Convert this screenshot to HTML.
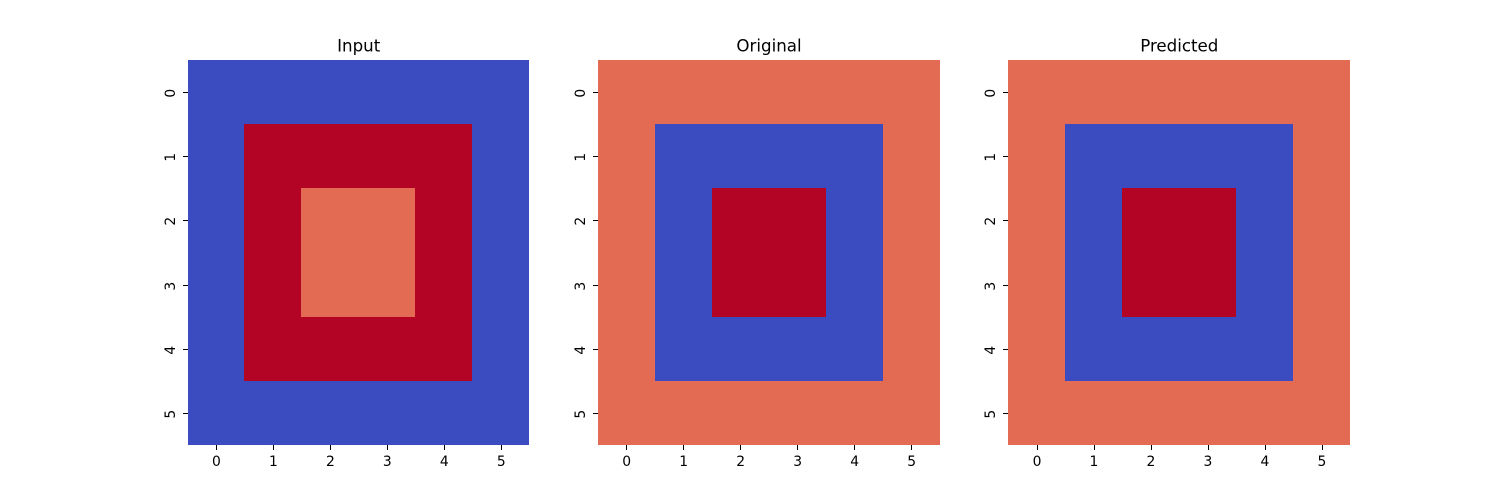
<!DOCTYPE html>
<html>
<head>
<meta charset="utf-8">
<title>Input, Original and Predicted heatmaps</title>
<style>
  html, body { margin: 0; padding: 0; background: #ffffff; }
  body { width: 1500px; height: 500px; overflow: hidden; }
  svg { display: block; }
  text { font-family: "DejaVu Sans", "Liberation Sans", sans-serif; fill: #000000; }
</style>
</head>
<body>
<svg id="figure" xmlns="http://www.w3.org/2000/svg" width="1500" height="500" viewBox="0 0 1500 500"></svg>
<script>
const panelTitles = ["Input", "Original", "Predicted"];
const xTickLabels = ["0", "1", "2", "3", "4", "5"];
const yTickLabels = ["0", "1", "2", "3", "4", "5"];
const inputGrid = [
  [0, 0, 0, 0, 0, 0],
  [0, 7, 7, 7, 7, 0],
  [0, 7, 6, 6, 7, 0],
  [0, 7, 6, 6, 7, 0],
  [0, 7, 7, 7, 7, 0],
  [0, 0, 0, 0, 0, 0]
];
const originalGrid = [
  [6, 6, 6, 6, 6, 6],
  [6, 0, 0, 0, 0, 6],
  [6, 0, 7, 7, 0, 6],
  [6, 0, 7, 7, 0, 6],
  [6, 0, 0, 0, 0, 6],
  [6, 6, 6, 6, 6, 6]
];
const predictedGrid = [
  [6, 6, 6, 6, 6, 6],
  [6, 0, 0, 0, 0, 6],
  [6, 0, 7, 7, 0, 6],
  [6, 0, 7, 7, 0, 6],
  [6, 0, 0, 0, 0, 6],
  [6, 6, 6, 6, 6, 6]
];
const panelGrids = [inputGrid, originalGrid, predictedGrid];
const colorValues = [0, 6, 7];
const colorHexes = ["#3b4cc0", "#e36a53", "#b40426"];

const SVG_NS = "http://www.w3.org/2000/svg";
const figure = document.getElementById("figure");
const FIG_LEFT = 187.5;
const FIG_RIGHT = 1350;
const TOP = 60;
const BOTTOM = 445;
const GAP_RATIO = 0.2;
const panelCount = panelTitles.length;
const panelWidth = (FIG_RIGHT - FIG_LEFT) / (panelCount + (panelCount - 1) * GAP_RATIO);

function panelLeft(p) { return FIG_LEFT + p * panelWidth * (1 + GAP_RATIO); }
function xScale(p, v, n) { return panelLeft(p) + (v / n) * panelWidth; }
function yScale(v, n) { return TOP + (v / n) * (BOTTOM - TOP); }
function snap(v) { return Math.round(v) + 0.5; }
function colorFor(v) { return colorHexes[colorValues.indexOf(v)]; }

function make(tag, attrs, parent) {
  const el = document.createElementNS(SVG_NS, tag);
  for (const k in attrs) el.setAttribute(k, attrs[k]);
  parent.appendChild(el);
  return el;
}

panelGrids.forEach(function (grid, p) {
  const group = make("g", {}, figure);
  
  

  const rows = grid.length;
  const cols = grid[0].length;

  grid.forEach(function (row, r) {
    row.forEach(function (value, c) {
      const x0 = Math.round(xScale(p, c, cols));
      const x1 = Math.round(xScale(p, c + 1, cols));
      const y0 = Math.round(yScale(r, rows));
      const y1 = Math.round(yScale(r + 1, rows));
      const cell = make("rect", {
        x: x0, y: y0, width: x1 - x0, height: y1 - y0,
        fill: colorFor(value), "shape-rendering": "crispEdges"
      }, group);
      
      
    });
  });

  const title = make("text", {
    x: xScale(p, cols / 2, cols) + 0.25, y: 51.7,
    "text-anchor": "middle", "font-size": "16.67px"
  }, group);
  title.textContent = panelTitles[p];
  
  

  xTickLabels.forEach(function (label, i) {
    const rawX = xScale(p, i + 0.5, cols);
    const x = snap(rawX);
    const tick = make("line", {
      x1: x, x2: x, y1: BOTTOM, y2: BOTTOM + 5,
      stroke: "#000000", "stroke-width": 1
    }, group);
    
    
    const text = make("text", {
      x: rawX + 0.4, y: 466, "text-anchor": "middle", "font-size": "13.89px"
    }, group);
    text.textContent = label;
    
    
  });

  yTickLabels.forEach(function (label, i) {
    const y = snap(yScale(i + 0.5, rows));
    const left = Math.round(panelLeft(p));
    const tick = make("line", {
      x1: left - 5, x2: left, y1: y, y2: y,
      stroke: "#000000", "stroke-width": 1
    }, group);
    
    
    const tx = left - 13;
    const ty = y + 0.75;
    const text = make("text", {
      x: tx, y: ty, "text-anchor": "middle", "font-size": "13.89px",
      transform: "rotate(-90 " + tx + " " + ty + ")"
    }, group);
    text.textContent = label;
    
    
  });
});
</script>
</body>
</html>
